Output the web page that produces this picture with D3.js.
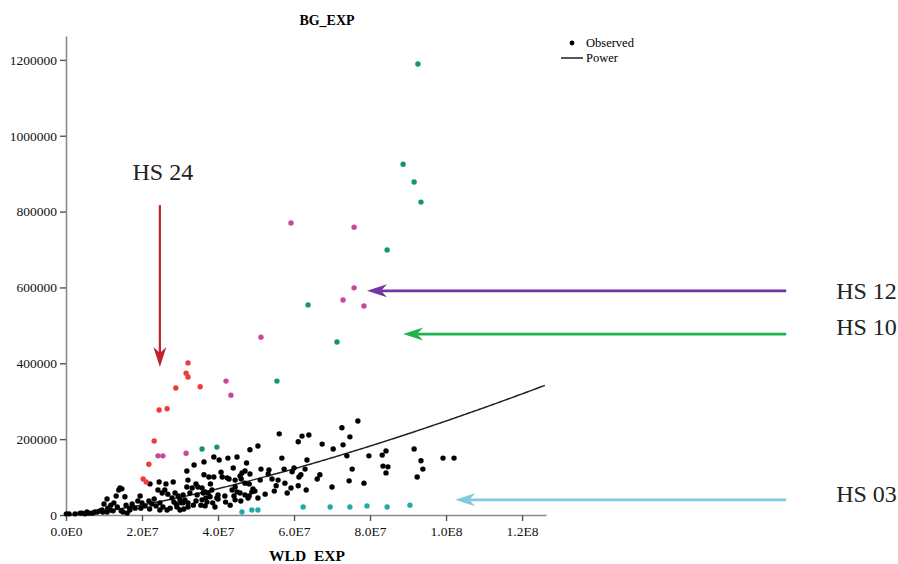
<!DOCTYPE html>
<html>
<head>
<meta charset="utf-8">
<script src="https://cdn.jsdelivr.net/npm/d3@7"></script>
<style>
  body { margin: 0; background: #fff; }
  svg { display: block; }
  text { font-family: "Liberation Serif", "DejaVu Serif", serif; }
</style>
</head>
<body>
<svg id="chart" width="898" height="564"></svg>
<script>
// Observed points: [WLD_EXP in millions, BG_EXP in thousands]
const observedOther = [
  [76.8,248],[72.6,230],[74.7,206],[72.9,185],[73.9,156],[79.7,156],[83.2,158],[84.2,169],[83.4,129],[84.7,127],
  [84.2,111],[75.3,121],[74.5,90],[78.4,84],[91.6,174],[93.4,143],[93.9,121],[92.4,100],[99.2,150],[102.1,150],
  [56.1,214],[62.1,208],[63.9,211],[61.1,193],[67.4,187],[70.3,174],[48.4,172],[50.5,182],[63.4,145],[56.8,150],
  [57.4,121],[60.0,124],[61.8,106],[62.9,121],[66.1,95],[66.8,106],[59.5,114],[61.3,100],[70.0,74],[63.2,66],
  [61.1,77],[59.2,71],[58.2,58],[55.3,77],[51.3,121],[53.4,119],[53.2,108],[51.1,92],[54.2,95],[55.8,92],
  [48.4,108],[47.1,116],[46.3,111],[45.0,153],[42.6,150],[40.3,145],[38.9,153],[36.3,140],[33.7,132],[31.8,116],
  [41.1,100],[42.9,95],[44.5,92],[45.8,103],[46.1,95],[47.1,84],[48.2,82],[44.5,74],[43.7,66],[45.0,61],
  [45.8,58],[49.2,69],[49.7,63],[48.9,61],[47.1,53],[47.9,45],[48.2,50],[41.8,50],[44.5,40],[44.2,50],
  [40.0,53],[40.0,42],[38.9,100],[37.6,100],[36.3,106],[35.5,26],[36.6,24],[32.1,21],[30.3,32],
  [34.7,74],[34.2,82],[32.1,92],[31.8,74],[33.2,71],[35.8,71],[36.6,61],[36.1,58],[34.5,53],[32.6,58],
  [30.8,53],[31.3,40],[32.1,32],[35.8,40],[37.1,34],[37.9,48],[39.7,45],[38.4,66],[37.4,58],
  [24.5,87],[26.3,82],[28.2,87],[22.1,82],[24.2,66],[25.3,58],[26.8,55],[28.7,58],[29.5,50],[14.2,71],
  [14.7,69],[13.9,66],[13.2,50],[15.5,48],[10.8,42],[10.0,29],[11.8,26],[12.6,32],[16.8,18],[17.4,29],
  [18.2,18],[19.7,18],[20.0,32],[21.8,37],[22.6,29],[23.7,24],[24.7,13],[26.6,13],[27.4,18],[29.2,21],
  [24.7,32],[25.5,21],[30.0,13],[28.4,34],[30.0,40],[30.8,32],
  [0.1,3],[0.8,3],[2.4,3],[3.7,5],[4.2,5],[5.0,3],[5.8,5],[6.6,5],[7.1,5],[7.6,8],
  [8.2,8],[8.9,11],[9.5,13],[9.7,8],[10.8,8],[11.6,13],[12.4,11],[14.5,11],[15.0,8],[16.1,5],[16.8,13],
  [40.8,113],[42.4,98],
  [5.5,8],[11.0,18],[13.5,21],[15.8,26],[18.9,37],[20.8,24],[22.0,16],[23.2,42],[27.9,45],[29.0,29],
  [31.0,16],[33.5,26],[34.2,37],[36.8,45],[38.6,32],[39.2,21],[42.0,34],[43.2,26],[46.0,37],[50.5,45],
  [52.4,55],[54.8,63],[57.6,84],[47.5,137],[44.0,124],[38.0,82],[26.0,66],[19.5,50]
];
const observedHS10 = [
  [92.6,1189],[88.7,925],[91.6,878],[93.4,825],[84.5,699],[63.7,554],[71.3,456],[55.5,353],[39.7,179],[35.8,174]
];
const observedHS12 = [
  [59.2,770],[75.8,759],[75.8,599],[72.9,567],[78.4,551],[51.3,469],[42.1,353],[43.4,316],[31.6,163],[24.2,156],[25.5,156]
];
const observedHS24 = [
  [32.1,401],[31.6,374],[32.1,364],[28.9,335],[35.3,338],[24.5,277],[26.6,280],[23.2,195],[21.8,134],[20.3,95],[21.1,87]
];
const observedHS03 = [
  [46.3,8],[48.9,13],[50.5,13],[62.4,21],[69.5,21],[74.7,21],[79.2,24],[84.5,21],[90.5,26]
];

// Power model  BG = a * WLD^b
const powerA = 1.88e-6;
const powerB = 1.39;

// Axis ticks and labels
const xTickValues = [0, 2e7, 4e7, 6e7, 8e7, 1e8, 1.2e8];
const xTickLabels = ["0.0E0", "2.0E7", "4.0E7", "6.0E7", "8.0E7", "1.0E8", "1.2E8"];
const yTickValues = [0, 200000, 400000, 600000, 800000, 1000000, 1200000];
const yTickLabels = ["0", "200000", "400000", "600000", "800000", "1000000", "1200000"];

// Arrow call-outs (WLD millions, BG thousands)
const calloutLabels = ["HS 24", "HS 12", "HS 10", "HS 03"];
const calloutFrom = [[24.7, 817], [189.5, 591], [189.5, 477], [189.5, 40]];
const calloutTo   = [[24.7, 390], [79.2, 591], [88.7, 477], [102.4, 40]];

// ---- layout / style ----
const W = 898, H = 564;
const margin = { top: 36, right: 352, bottom: 49, left: 66 };
const seriesColors = { other: "#000000", hs10: "#14995a", hs12: "#c8479b", hs24: "#ee3b3b", hs03: "#21aaaa" };
const calloutColors = ["#c0232e", "#7434a4", "#22b24c", "#80c9df"];
const labelOffsets = [[3, -25, "middle"], [50, 8, "start"], [50, 1, "start"], [50, 2, "start"]];

const svg = d3.select("#chart");

const x = d3.scaleLinear().domain([0, 1.263e8]).range([margin.left, W - margin.right]);
const y = d3.scaleLinear().domain([0, 1263000]).range([H - margin.bottom, margin.top]);
const px = d => x(d[0] * 1e6);
const py = d => y(d[1] * 1e3);

// Title
svg.append("text")
  .attr("x", 327).attr("y", 25)
  .attr("text-anchor", "middle")
  .attr("font-size", 14).attr("font-weight", "bold")
  .text("BG_EXP");

// Axes
const xAxis = d3.axisBottom(x)
  .tickValues(xTickValues)
  .tickFormat((d, i) => xTickLabels[i])
  .tickSize(6).tickSizeOuter(0).tickPadding(5);
const yAxis = d3.axisLeft(y)
  .tickValues(yTickValues)
  .tickFormat((d, i) => yTickLabels[i])
  .tickSize(6).tickSizeOuter(0).tickPadding(3);

const gx = svg.append("g").attr("transform", `translate(0,${H - margin.bottom})`).call(xAxis);
const gy = svg.append("g").attr("transform", `translate(${margin.left},0)`).call(yAxis);
[gx, gy].forEach(g => {
  g.select(".domain").attr("stroke", "#8a8a8a").attr("stroke-width", 1.6);
  g.selectAll(".tick line").attr("stroke", "#555").attr("stroke-width", 1.4);
  g.selectAll(".tick text")
    .attr("font-family", "'Liberation Serif', serif")
    .attr("font-size", 13.5).attr("fill", "#111");
});

// X axis title
svg.append("text")
  .attr("x", 307).attr("y", 561)
  .attr("text-anchor", "middle")
  .attr("font-size", 15.5).attr("font-weight", "bold")
  .attr("xml:space", "preserve")
  .style("white-space", "pre")
  .text("WLD  EXP");

// Fitted power curve
const curveX = d3.range(0, 1.2631e8, 5e5);
const line = d3.line().x(v => x(v)).y(v => y(powerA * Math.pow(v, powerB)));
svg.append("path")
  .attr("d", line(curveX))
  .attr("fill", "none").attr("stroke", "#222").attr("stroke-width", 1.5);

// Scatter points
const groups = [
  [observedOther, seriesColors.other],
  [observedHS03, seriesColors.hs03],
  [observedHS24, seriesColors.hs24],
  [observedHS12, seriesColors.hs12],
  [observedHS10, seriesColors.hs10]
];
groups.forEach(([data, color]) => {
  svg.append("g").selectAll("circle")
    .data(data).join("circle")
    .attr("cx", px).attr("cy", py).attr("r", 2.7)
    .attr("fill", color);
});

// Legend
const legend = svg.append("g");
legend.append("circle").attr("cx", 572).attr("cy", 43).attr("r", 2.4).attr("fill", "#000");
legend.append("text").attr("x", 586).attr("y", 47).attr("font-size", 12.5).text("Observed");
legend.append("line").attr("x1", 561).attr("x2", 583).attr("y1", 58).attr("y2", 58)
  .attr("stroke", "#111").attr("stroke-width", 1.4);
legend.append("text").attr("x", 586).attr("y", 62).attr("font-size", 12.5).text("Power");

// Arrow call-outs
calloutLabels.forEach((label, i) => {
  const x1 = px(calloutFrom[i]), y1 = py(calloutFrom[i]);
  const x2 = px(calloutTo[i]), y2 = py(calloutTo[i]);
  const ang = Math.atan2(y2 - y1, x2 - x1);
  const L = 20, hw = 6.5, notch = 14;
  const g = svg.append("g");
  const cos = Math.cos(ang), sin = Math.sin(ang);
  // shaft stops at the notch of the head
  g.append("line")
    .attr("x1", x1).attr("y1", y1)
    .attr("x2", x2 - cos * notch).attr("y2", y2 - sin * notch)
    .attr("stroke", calloutColors[i]).attr("stroke-width", i === 0 ? 2.2 : 2.8);
  const pt = (a, b) => [x2 - cos * a - sin * b, y2 - sin * a + cos * b];
  const head = [pt(0, 0), pt(L, hw), pt(notch, 0), pt(L, -hw)];
  g.append("path")
    .attr("d", "M" + head.map(p => p.join(",")).join("L") + "Z")
    .attr("fill", calloutColors[i]);
  const [dx, dy, anchor] = labelOffsets[i];
  g.append("text")
    .attr("x", x1 + dx).attr("y", y1 + dy)
    .attr("text-anchor", anchor)
    .attr("font-size", 24).attr("fill", "#222")
    .text(label);
});
</script>
</body>
</html>
